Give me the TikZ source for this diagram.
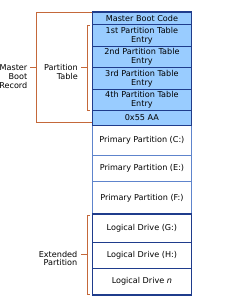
\documentclass[tikz,border=0pt]{standalone}
\usepackage{fontspec}
\setmainfont{DejaVu Sans}
\definecolor{navy}{HTML}{1F3C8C}
\definecolor{lblue}{HTML}{99CCFF}
\definecolor{mblue}{HTML}{5E84CC}
\definecolor{brk}{HTML}{C4683A}
\begin{document}
\begin{tikzpicture}[x=1pt,y=-1pt,
  cell/.style={draw=navy, line width=0.8pt, minimum width=98.4pt, inner sep=0pt,
    anchor=north west, align=center, font=\fontsize{8.1}{9}\selectfont},
  bluecell/.style={cell, fill=lblue},
  primcell/.style={cell, draw=mblue, line width=0.9pt},
  lbl/.style={anchor=north east, inner sep=0pt, align=right, font=\fontsize{8.1}{8.8}\selectfont},
  brack/.style={draw=brk, line width=0.8pt}]
\useasboundingbox (0,0) rectangle (230,300);
% rows
\node[bluecell, minimum height=12.3pt] (mbc) at (92.3,12) {Master Boot Code};
\node[bluecell, minimum height=22pt] (e1) at (92.3,24.3) {1st Partition Table\\Entry};
\node[bluecell, minimum height=21pt] (e2) at (92.3,46.3) {2nd Partition Table\\Entry};
\node[bluecell, minimum height=21.4pt] (e3) at (92.3,67.3) {3rd Partition Table\\Entry};
\node[bluecell, minimum height=21.6pt] (e4) at (92.3,88.7) {4th Partition Table\\Entry};
\node[bluecell, minimum height=14.4pt] (aa) at (92.3,110.3) {0x55 AA};
\node[primcell, minimum height=30.3pt] (pc) at (92.3,124.7) {Primary Partition (C:)};
\node[primcell, minimum height=26.3pt] (pe) at (92.3,155) {Primary Partition (E:)};
\node[primcell, minimum height=32.7pt] (pf) at (92.3,181.3) {Primary Partition (F:)};
\node[cell, minimum height=27.7pt] (lg) at (92.3,214) {Logical Drive (G:)};
\node[cell, minimum height=26pt] (lh) at (92.3,241.7) {Logical Drive (H:)};
\node[cell, minimum height=26.6pt] (ln) at (92.3,267.7) {Logical Drive \textit{n}};
% outer frames
\draw[navy, line width=1.3pt] (mbc.north west) rectangle (aa.south east);
\draw[navy, line width=1.3pt] (lg.north west) rectangle (ln.south east);
% brackets
\coordinate (mbrT) at (36,12);
\coordinate (mbrB) at (36,122.5);
\coordinate (mbrM) at (36,67.7);
\coordinate (mbrL) at (30,67.7);
\draw[brack] (mbc.north west) -- (mbrT) -- (mbrB) -- (aa.west |- mbrB);
\draw[brack] (mbrM) -- (mbrL);
\coordinate (ptT) at (87.3,25.3);
\coordinate (ptB) at (87.3,110);
\coordinate (ptM) at (87.3,67.7);
\coordinate (ptL) at (81,67.7);
\draw[brack] (90,25.3) -- (ptT) -- (ptB) -- (90,110);
\draw[brack] (ptM) -- (ptL);
\coordinate (exT) at (87.3,215.7);
\coordinate (exB) at (87.3,294.3);
\coordinate (exM) at (87.3,254.3);
\coordinate (exL) at (81,254.3);
\draw[brack] (90,215.7) -- (exT) -- (exB) -- (90,294.3);
\draw[brack] (exM) -- (exL);
% labels
\node[lbl] (mbr) at (27.5,64.5) {Master\\Boot\\Record};
\node[lbl] (pt) at (78,64.5) {Partition\\Table};
\node[lbl] (ex) at (77.5,250.8) {Extended\\Partition};
\end{tikzpicture}
\end{document}
